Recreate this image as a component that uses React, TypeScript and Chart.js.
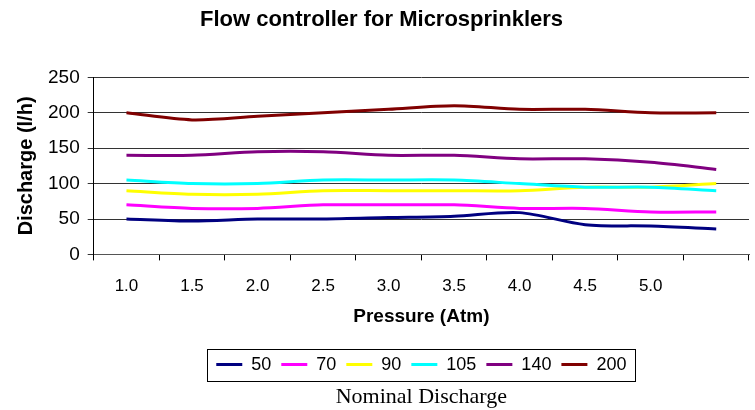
import React, { useEffect, useRef } from 'react';
import { Chart, registerables } from 'chart.js';

Chart.register(...registerables);

const pressureLabels = ['1.0', '1.5', '2.0', '2.5', '3.0', '3.5', '4.0', '4.5', '5.0', ''];
const seriesNames = ['50', '70', '90', '105', '140', '200'];
const q50 = [50, 47, 50, 50, 52, 54, 59, 42, 40, 36];
const q70 = [70, 65, 65, 70, 70, 70, 65, 65, 60, 60];
const q90 = [90, 85, 85, 90, 90, 90, 90, 95, 95, 100];
const q105 = [105, 100, 100, 105, 105, 105, 100, 95, 95, 90];
const q140 = [140, 140, 145, 145, 140, 140, 135, 135, 130, 120];
const q200 = [200, 190, 195, 200, 205, 210, 205, 205, 200, 200];
const seriesValues = [q50, q70, q90, q105, q140, q200];
const seriesColors = ['#000080', '#FF00FF', '#FFFF00', '#00FFFF', '#800080', '#800000'];
const yTicks = [0, 50, 100, 150, 200, 250];

const SANS = '"Liberation Sans", Arial, sans-serif';
const SERIF = '"Liberation Serif", "Times New Roman", serif';

const legendBorder = {
  id: 'legendBorder',
  afterDraw(chart: any) {
    const lg = chart.legend;
    const hb = lg && lg.legendHitBoxes;
    if (!hb || !hb.length) return;
    const left = Math.min(...hb.map((h: any) => h.left)) - 9;
    const right = Math.max(...hb.map((h: any) => h.left + h.width)) + 9;
    const cy = hb[0].top + hb[0].height / 2;
    const ctx = chart.ctx;
    ctx.save();
    ctx.strokeStyle = '#000';
    ctx.lineWidth = 1;
    ctx.strokeRect(Math.round(left) + 0.5, Math.round(cy - 16) + 0.5, Math.round(right - left), 32);
    ctx.restore();
  },
};

export default function App() {
  const ref = useRef<HTMLCanvasElement>(null);

  useEffect(() => {
    document.body.style.margin = '0';
    const canvas = ref.current;
    if (!canvas) return;
    const chart = new Chart(canvas, {
      type: 'line',
      data: {
        labels: pressureLabels,
        datasets: seriesNames.map((name, i) => ({
          label: name,
          data: seriesValues[i],
          borderColor: seriesColors[i],
          backgroundColor: seriesColors[i],
          borderWidth: 3,
          pointRadius: 0,
          tension: 0.3,
          fill: false,
          order: 6 - i,
        })),
      },
      options: {
        responsive: false,
        animation: false,
        devicePixelRatio: 1,
        layout: { padding: { left: 14, right: 6, top: 0, bottom: 0 } },
        plugins: {
          tooltip: { enabled: false },
          title: {
            display: true,
            text: 'Flow controller for Microsprinklers',
            color: '#000',
            font: { family: SANS, size: 22, weight: 'bold' },
            padding: { top: 7, bottom: 44 },
          },
          subtitle: {
            display: true,
            position: 'bottom',
            fullSize: false,
            text: 'Nominal Discharge',
            color: '#000',
            font: { family: SERIF, size: 22, weight: 'normal' },
            padding: { top: 0, bottom: 0 },
          },
          legend: {
            display: true,
            position: 'bottom',
            fullSize: false,
            labels: {
              color: '#000',
              font: { family: SANS, size: 18 },
              boxWidth: 26,
              boxHeight: 3,
              padding: 10,
              sort: (a: any, b: any) => a.datasetIndex - b.datasetIndex,
              generateLabels: (chart: any) =>
                Chart.defaults.plugins.legend.labels
                  .generateLabels(chart)
                  .map((it: any) => ({ ...it, lineWidth: 0, strokeStyle: it.fillStyle })),
            },
          },
        },
        scales: {
          x: {
            type: 'category',
            offset: true,
            grid: {
              offset: true,
              drawOnChartArea: false,
              drawTicks: true,
              tickLength: 6,
              color: '#000',
            },
            border: { display: true, color: '#555', width: 1 },
            ticks: {
              color: '#000',
              font: { family: SANS, size: 17 },
              padding: 16,
              maxRotation: 0,
              autoSkip: false,
            },
            title: {
              display: true,
              text: 'Pressure (Atm)',
              color: '#000',
              font: { family: SANS, size: 19, weight: 'bold' },
              padding: { top: -7, bottom: 17 },
            },
          },
          y: {
            min: 0,
            max: 250,
            afterBuildTicks: (scale: any) => {
              scale.ticks = yTicks.map((v) => ({ value: v }));
            },
            grid: {
              color: '#333',
              lineWidth: 1,
              drawTicks: true,
              tickLength: 6,
            },
            border: { display: true, color: '#000', width: 1 },
            ticks: {
              color: '#000',
              font: { family: SANS, size: 19 },
              padding: 8,
            },
            title: {
              display: true,
              text: 'Discharge (l/h)',
              color: '#000',
              font: { family: SANS, size: 20, weight: 'bold' },
              padding: { top: 0, bottom: 2 },
            },
          },
        },
      },
      plugins: [legendBorder],
    });
    return () => chart.destroy();
  }, []);

  return (
    <div style={{ width: 755, height: 410 }}>
      <canvas ref={ref} width={755} height={410} style={{ display: 'block' }} />
    </div>
  );
}
